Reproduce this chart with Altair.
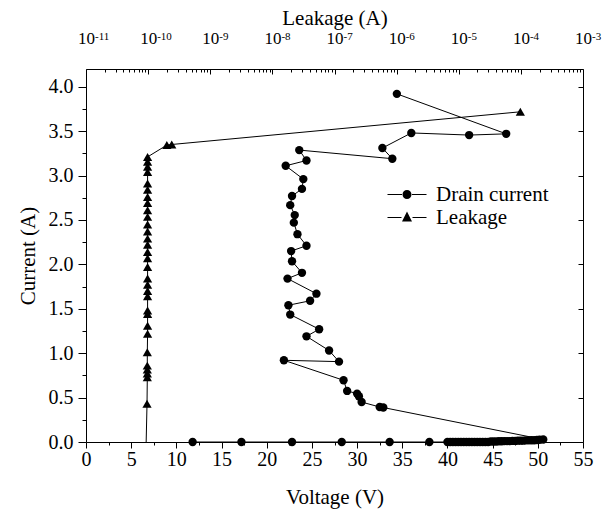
import altair as alt
import pandas as pd

# Drain current sweep: voltage (V) and current (A), in measurement order
drain_voltage = [
    11.8, 17.2, 22.8, 28.3, 33.6, 38.0,
    40.0, 40.3, 40.6, 40.9, 41.2, 41.5, 41.8, 42.1, 42.4, 42.7, 43.0, 43.3,
    43.6, 43.9, 44.2, 44.5, 44.8, 45.1, 45.4, 45.7, 46.0, 46.3, 46.6, 46.9,
    47.2, 47.5, 47.8, 48.1, 48.4, 48.7, 49.0, 49.3, 49.6, 49.9, 50.2, 50.6,
    32.9, 32.5, 30.5, 30.2, 30.0, 28.9, 28.5, 21.9, 28.0, 26.9, 24.4, 25.8,
    22.6, 22.4, 24.8, 25.5, 22.3, 23.9, 22.8, 22.7, 24.4, 23.4, 23.0, 23.1,
    22.6, 22.8, 23.9, 24.05, 22.1, 24.4, 23.6, 33.9, 32.8, 36.0, 42.4, 46.5,
    34.4,
]
drain_current = [
    0.0, 0.0, 0.0, 0.0, 0.0, 0.0,
    0.0, 0.0, 0.0, 0.0, 0.0, 0.0, 0.0, 0.0, 0.0, 0.0, 0.0, 0.0,
    0.0, 0.0, 0.0, 0.0, 0.005, 0.005, 0.005, 0.008, 0.008, 0.01, 0.01, 0.01,
    0.012, 0.012, 0.015, 0.015, 0.015, 0.018, 0.018, 0.02, 0.02, 0.022, 0.025, 0.028,
    0.388, 0.394, 0.45, 0.515, 0.545, 0.575, 0.695, 0.92, 0.905, 1.03, 1.19, 1.27,
    1.435, 1.54, 1.59, 1.67, 1.84, 1.905, 2.035, 2.15, 2.21, 2.34, 2.47, 2.555,
    2.667, 2.77, 2.85, 2.96, 3.11, 3.17, 3.287, 3.19, 3.31, 3.48, 3.456, 3.47,
    3.92,
]

# Leakage (A) against current (A)
leak_current = [
    0.0, 0.43, 0.73, 0.77, 0.815, 0.86, 1.01, 1.22, 1.31, 1.44, 1.48, 1.64,
    1.70, 1.77, 1.84, 1.97, 2.07, 2.14, 2.22, 2.29, 2.37, 2.45, 2.535, 2.61,
    2.69, 2.76, 2.84, 2.91, 3.04, 3.10, 3.155, 3.21, 3.343, 3.35, 3.718,
]
leak_amps = [
    9.3e-11, 9.6e-11, 9.7e-11, 9.7e-11, 9.7e-11, 9.7e-11, 9.7e-11, 9.8e-11,
    9.8e-11, 9.8e-11, 9.8e-11, 9.8e-11, 9.8e-11, 9.8e-11, 9.8e-11, 9.8e-11,
    9.8e-11, 9.8e-11, 9.8e-11, 9.8e-11, 9.8e-11, 9.8e-11, 9.8e-11, 9.8e-11,
    9.8e-11, 9.8e-11, 9.8e-11, 9.8e-11, 9.8e-11, 9.8e-11, 9.8e-11, 9.8e-11,
    2.0e-10, 2.4e-10, 9.8e-5,
]

# Axis ticks and labels
voltage_ticks = [0, 5, 10, 15, 20, 25, 30, 35, 40, 45, 50, 55]
voltage_minor = [2.5, 7.5, 12.5, 17.5, 22.5, 27.5, 32.5, 37.5, 42.5, 47.5, 52.5]
current_ticks = [0.0, 0.5, 1.0, 1.5, 2.0, 2.5, 3.0, 3.5, 4.0]
current_minor = [0.25, 0.75, 1.25, 1.75, 2.25, 2.75, 3.25, 3.75]
leak_ticks = [1e-11, 1e-10, 1e-9, 1e-8, 1e-7, 1e-6, 1e-5, 1e-4, 1e-3]
leak_exponents = ["-11", "-10", "-9", "-8", "-7", "-6", "-5", "-4", "-3"]
leak_minor = [k * 10.0 ** e for e in range(-11, -3) for k in range(2, 10)]

series_names = ["Drain current", "Leakage"]

FONT = "Times New Roman"

drain = pd.DataFrame({
    "seq": range(len(drain_voltage)),
    "voltage": drain_voltage,
    "current": drain_current,
})
leak = pd.DataFrame({
    "seq": range(len(leak_current)),
    "leakage": leak_amps,
    "current": leak_current,
    "series": "Leakage",
})
exponents = pd.DataFrame({"leakage": leak_ticks, "exponent": leak_exponents})

v_scale = alt.Scale(domain=[0, 55], nice=False, zero=False)
l_scale = alt.Scale(type="log", domain=[1e-11, 1e-3], nice=False)
i_scale = alt.Scale(domain=[0, 4.2], nice=False, zero=False)

common = dict(grid=False, domain=False, tickColor="black", labelColor="black",
              titleColor="black", labelFont=FONT, titleFont=FONT,
              titleFontWeight="normal", labelFlush=False, labelOverlap=False)


def tick_axis(orient, values, size, offset=0):
    return alt.Axis(orient=orient, values=values, labels=False, ticks=True,
                    tickSize=size, offset=offset, title=None, **common)


# Drain current line with the bottom (voltage) and left (current) axes
drain_line = alt.Chart(drain).mark_line(color="black", strokeWidth=1).encode(
    x=alt.X("voltage:Q", scale=v_scale,
            axis=alt.Axis(orient="bottom", values=voltage_ticks, title="Voltage (V)",
                          tickSize=6, labelPadding=1, labelFontSize=20,
                          titleFontSize=21, titlePadding=17, **common)),
    y=alt.Y("current:Q", scale=i_scale,
            axis=alt.Axis(orient="left", values=current_ticks, format=".1f",
                          title="Current (A)", tickSize=8, labelPadding=5,
                          labelFontSize=20, titleFontSize=21, titlePadding=10,
                          **common)),
    order="seq:Q",
)

# Drain current markers, carrying the minor ticks of the bottom and left axes
drain_pts = alt.Chart(drain).mark_point(
    shape="circle", filled=True, size=70, color="black", opacity=1
).encode(
    x=alt.X("voltage:Q", scale=v_scale, axis=tick_axis("bottom", voltage_minor, 3)),
    y=alt.Y("current:Q", scale=i_scale, axis=tick_axis("left", current_minor, 4)),
)

# Leakage line with the top (log leakage) labels and inward right ticks
leak_line = alt.Chart(leak).mark_line(color="black", strokeWidth=1).encode(
    x=alt.X("leakage:Q", scale=l_scale,
            axis=alt.Axis(orient="top", values=leak_ticks, title="Leakage (A)",
                          ticks=False, labelExpr="'10'", labelPadding=22,
                          labelFontSize=17, titleFontSize=21, titlePadding=1,
                          **common)),
    y=alt.Y("current:Q", scale=i_scale,
            axis=tick_axis("right", current_ticks, 5, offset=-5)),
    order="seq:Q",
)

# Leakage markers with the inward major ticks of the top axis
leak_pts = alt.Chart(leak).transform_filter("datum.current > 0").mark_point(
    shape="triangle-up", filled=True, size=85, color="black", opacity=1
).encode(
    x=alt.X("leakage:Q", scale=l_scale, axis=tick_axis("top", leak_ticks, 5, offset=-5)),
    y=alt.Y("current:Q", scale=i_scale, axis=None),
)

# Superscript exponents of the top tick labels
exp_text = alt.Chart(exponents).mark_text(
    align="left", baseline="alphabetic", dx=9, fontSize=11, font=FONT, color="black"
).encode(
    x=alt.X("leakage:Q", scale=l_scale, axis=None),
    y=alt.value(-29),
    text="exponent:N",
)

# Line-and-marker legend symbols (one unit = half the symbol size)
circle_sym = ("M-1.95,-0.05L-0.5,-0.05L-0.5,0.05L-1.95,0.05Z"
              "M0.5,-0.05L1.95,-0.05L1.95,0.05L0.5,0.05Z"
              "M-0.45,0A0.45,0.45 0 1,1 0.45,0A0.45,0.45 0 1,1 -0.45,0Z")
triangle_sym = ("M-1.95,-0.05L-0.55,-0.05L-0.55,0.05L-1.95,0.05Z"
                "M0.55,-0.05L1.95,-0.05L1.95,0.05L0.55,0.05Z"
                "M0,-0.6L0.5,0.4L-0.5,0.4Z")

legend_layer = alt.Chart(leak).transform_filter("datum.current > 0").mark_point(
    filled=True, color="black", opacity=0
).encode(
    x=alt.X("leakage:Q", scale=l_scale, axis=tick_axis("top", leak_minor, 3, offset=-3)),
    y=alt.Y("current:Q", scale=i_scale, axis=None),
    shape=alt.Shape(
        "series:N",
        scale=alt.Scale(domain=series_names, range=[circle_sym, triangle_sym]),
        legend=alt.Legend(
            orient="none", legendX=310.5, legendY=115, title=None, padding=0,
            symbolSize=400, symbolFillColor="black", symbolStrokeColor="black",
            symbolStrokeWidth=0, symbolOpacity=1, labelFont=FONT,
            labelFontSize=21, labelColor="black", labelOffset=18.5, rowPadding=1,
        ),
    ),
)

chart = alt.layer(
    drain_line, drain_pts, leak_line, leak_pts, exp_text, legend_layer
).resolve_scale(
    x="independent", y="shared"
).resolve_axis(
    x="independent", y="independent"
).properties(
    width=497, height=373,
    padding={"left": 86, "top": 69, "right": 20, "bottom": 67},
    autosize=alt.AutoSizeParams(type="none"),
    background="white",
).configure(
    font=FONT
).configure_axis(
    labelFont=FONT, titleFont=FONT
).configure_view(
    stroke="black", strokeWidth=1
)

chart.save("out.html", embed_options={"renderer": "svg", "actions": False})
